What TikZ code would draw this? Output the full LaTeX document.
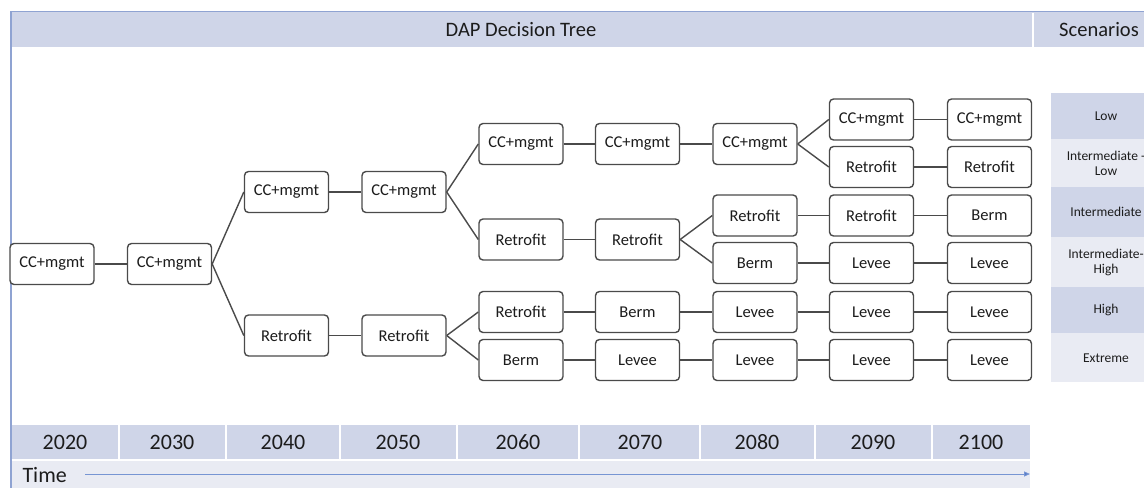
\documentclass[tikz,border=0pt]{standalone}
\usepackage{fontspec}
\setmainfont{Carlito}
\usetikzlibrary{arrows.meta}
\definecolor{bandDark}{HTML}{CFD5E8}
\definecolor{bandLight}{HTML}{E9EBF3}
\definecolor{frameBlue}{HTML}{8FA3D2}
\definecolor{boxLine}{HTML}{4A4A4A}
\definecolor{txt}{HTML}{1C1C1C}
\definecolor{timeBlue}{HTML}{4A72C4}
\tikzset{
  choice/.style={draw=boxLine, line width=1.4pt, rounded corners=4pt, fill=white,
    minimum width=84pt, minimum height=41pt, inner sep=0pt,
    font=\fontsize{16.5}{18}\selectfont, text=txt},
  link/.style={draw=boxLine, line width=1.4pt},
  yearlbl/.style={font=\fontsize{22}{24}\selectfont, text=txt},
  scen/.style={font=\fontsize{13.5}{15}\selectfont, text=txt, align=center},
}
\begin{document}
\begin{tikzpicture}[x=1pt,y=-1pt]
\useasboundingbox (0,0) rectangle (1144,488);
\clip (0,0) rectangle (1144,488);
\fill[white] (0,0) rectangle (1144,488);

% header band
\fill[bandDark] (10,11) rectangle (1160,47);
\draw[frameBlue, line width=1.5pt] (10,11.5) -- (1160,11.5);
\draw[white, line width=1.5pt] (1033,12.5) -- (1033,47);
\node[font=\fontsize{20.5}{22}\selectfont, text=txt] (title) at (521,30) {DAP Decision Tree};
\node[font=\fontsize{20.5}{22}\selectfont, text=txt] (scenhead) at (1099,30) {Scenarios};

% left frame line
\draw[frameBlue, line width=2pt] (10.5,11) -- (10.5,488);

% scenario table
\fill[bandDark]  (1051,93)  rectangle (1161,139);
\fill[bandLight] (1051,139) rectangle (1161,187);
\fill[bandDark]  (1051,187) rectangle (1161,237);
\fill[bandLight] (1051,237) rectangle (1161,287);
\fill[bandDark]  (1051,287) rectangle (1161,333);
\fill[bandLight] (1051,333) rectangle (1161,382);
\node[scen] (s1) at (1106,116) {Low};
\node[scen] (s2) at (1106,163) {Intermediate -\\Low};
\node[scen] (s3) at (1106,212) {Intermediate};
\node[scen] (s4) at (1106,262) {Intermediate-\\High};
\node[scen] (s5) at (1106,310) {High};
\node[scen] (s6) at (1106,358) {Extreme};

% time axis
\fill[bandLight] (11.5,460) rectangle (1030,488);
\fill[bandDark] (11.5,425) rectangle (1030,460);
\foreach \b in {119,226,340,457,579,700,815,932}
  \draw[white, line width=1.5pt] (\b,425) -- (\b,460);
\draw[white, line width=1.2pt] (11.5,460) -- (1030,460);
\foreach \c/\yr in {65/2020,172/2030,283/2040,398/2050,518/2060,640/2070,757/2080,873/2090,981/2100}
  \node[yearlbl] (y\yr) at (\c,442.5) {\yr};
\node[yearlbl, anchor=base west] (timelbl) at (19,482) {Time};
\coordinate (tstart) at (85,474);
\coordinate (tend) at (1030,474);
\draw[timeBlue!75, line width=1pt, -{Triangle[length=6pt,width=5pt,fill=timeBlue]}] (tstart) -- (tend);

% decision tree
\node[choice] (n1) at (52,264) {CC+mgmt};
\node[choice] (n2) at (169.5,264) {CC+mgmt};
\node[choice] (n3a) at (286.5,192) {CC+mgmt};
\node[choice] (n3b) at (286.5,335.5) {Retrofit};
\node[choice] (n4a) at (404,192) {CC+mgmt};
\node[choice] (n4b) at (404,335.5) {Retrofit};
\node[choice] (n5a) at (521,144) {CC+mgmt};
\node[choice] (n5b) at (521,239.5) {Retrofit};
\node[choice] (n5c) at (521,312) {Retrofit};
\node[choice] (n5d) at (521,360) {Berm};
\node[choice] (n6a) at (637.5,144) {CC+mgmt};
\node[choice] (n6b) at (637.5,239.5) {Retrofit};
\node[choice] (n6c) at (637.5,312) {Berm};
\node[choice] (n6d) at (637.5,360) {Levee};
\node[choice] (n7a) at (755,144) {CC+mgmt};
\node[choice] (n7b) at (755,215.5) {Retrofit};
\node[choice] (n7c) at (755,263) {Berm};
\node[choice] (n7d) at (755,312) {Levee};
\node[choice] (n7e) at (755,360) {Levee};
\node[choice] (n8a) at (871.5,119.5) {CC+mgmt};
\node[choice] (n8b) at (871.5,167) {Retrofit};
\node[choice] (n8c) at (871.5,215.5) {Retrofit};
\node[choice] (n8d) at (871.5,263) {Levee};
\node[choice] (n8e) at (871.5,312) {Levee};
\node[choice] (n8f) at (871.5,360) {Levee};
\node[choice] (n9a) at (989.5,119.5) {CC+mgmt};
\node[choice] (n9b) at (989.5,167) {Retrofit};
\node[choice] (n9c) at (989.5,215.5) {Berm};
\node[choice] (n9d) at (989.5,263) {Levee};
\node[choice] (n9e) at (989.5,312) {Levee};
\node[choice] (n9f) at (989.5,360) {Levee};

\foreach \a/\b in {n1/n2, n2/n3a, n2/n3b, n3a/n4a, n3b/n4b,
    n4a/n5a, n4a/n5b, n4b/n5c, n4b/n5d,
    n5a/n6a, n5b/n6b, n5c/n6c, n5d/n6d,
    n6a/n7a, n6b/n7b, n6b/n7c, n6c/n7d, n6d/n7e,
    n7a/n8a, n7a/n8b, n7b/n8c, n7c/n8d, n7d/n8e, n7e/n8f,
    n8a/n9a, n8b/n9b, n8c/n9c, n8d/n9d, n8e/n9e, n8f/n9f}
  \draw[link] (\a.east) -- (\b.west);
\end{tikzpicture}
\end{document}
